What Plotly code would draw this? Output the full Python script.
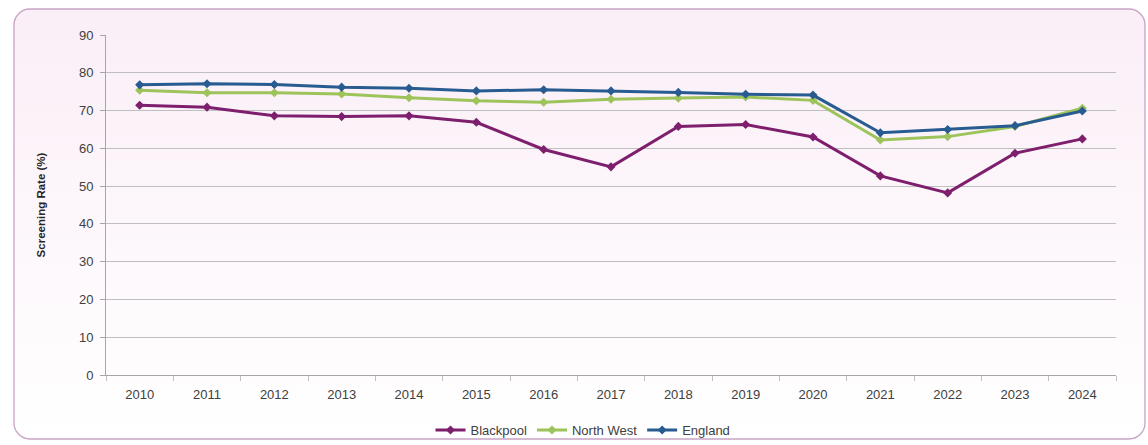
import base64
import plotly.graph_objects as go

years = ["2010", "2011", "2012", "2013", "2014", "2015", "2016", "2017",
         "2018", "2019", "2020", "2021", "2022", "2023", "2024"]
blackpool = [71.4, 70.9, 68.6, 68.4, 68.6, 66.9, 59.7, 55.1, 65.8, 66.3, 63.0, 52.7, 48.2, 58.7, 62.5]
north_west = [75.4, 74.7, 74.7, 74.4, 73.4, 72.6, 72.2, 73.0, 73.3, 73.6, 72.7, 62.2, 63.1, 65.8, 70.6]
england = [76.8, 77.1, 76.9, 76.2, 75.9, 75.2, 75.5, 75.2, 74.8, 74.3, 74.1, 64.1, 65.0, 66.0, 69.9]

series = [("Blackpool", blackpool, "#7E1F6E"),
          ("North West", north_west, "#9DC35B"),
          ("England", england, "#285C91")]

fig = go.Figure()
for name, vals, col in series:
    fig.add_trace(go.Scatter(
        x=years, y=vals, name=name, mode="lines+markers",
        line=dict(color=col, width=3),
        marker=dict(symbol="diamond", size=7, color=col),
    ))

# background panel (rounded, gradient) as an SVG image
W, H = 1133, 432
svg = f'''<svg xmlns="http://www.w3.org/2000/svg" width="{W}" height="{H}" viewBox="0 0 {W} {H}">
<defs><linearGradient id="g" x1="0" y1="0" x2="0" y2="1">
<stop offset="0" stop-color="#FAEEF7"/><stop offset="0.5" stop-color="#FDF7FB"/><stop offset="1" stop-color="#FFFFFF"/>
</linearGradient></defs>
<rect x="1" y="1" width="{W-2}" height="{H-2}" rx="16" ry="16" fill="url(#g)" stroke="#C9A3C3" stroke-width="1.3"/>
</svg>'''
src = "data:image/svg+xml;base64," + base64.b64encode(svg.encode()).decode()

L, R, T, B = 106, 32, 35, 70
pw = 1148 - L - R
ph = 445 - T - B
x0 = (13 - L) / pw
x1 = (1146 - L) / pw
y0 = (445 - B - 8) / ph
y1 = (445 - B - 440) / ph
fig.add_layout_image(dict(source=src, xref="paper", yref="paper", x=x0, y=y0,
                          sizex=x1 - x0, sizey=y0 - y1, xanchor="left", yanchor="top",
                          sizing="stretch", layer="below"))

font = "Liberation Sans"
fig.update_layout(
    width=1148, height=445,
    margin=dict(l=L, r=R, t=T, b=B, autoexpand=False),
    paper_bgcolor="white", plot_bgcolor="rgba(0,0,0,0)",
    font=dict(family=font, size=12, color="#404040"),
    showlegend=True,
    legend=dict(orientation="h", x=(583 - L) / pw, xanchor="center", y=(445 - B - 430) / ph,
                yanchor="middle", font=dict(size=13, color="#404040"),
                bgcolor="rgba(0,0,0,0)", itemwidth=30, tracegroupgap=0),
)
fig.update_xaxes(
    type="category", range=[-0.5, 14.5], showgrid=False,
    showline=True, linecolor="#A6A6A6", linewidth=1,
    ticks="outside", tickson="boundaries", ticklen=5, tickcolor="#BFBFBF",
    tickfont=dict(size=13, color="#404040"), ticklabelstandoff=7,
)
fig.update_yaxes(
    range=[0, 90], dtick=10, showgrid=True, gridcolor="#BFBFBF", gridwidth=1,
    showline=True, linecolor="#A6A6A6", linewidth=1, zeroline=False,
    ticks="outside", ticklen=5, tickcolor="#A6A6A6",
    tickfont=dict(size=13, color="#404040"), ticklabelstandoff=4,
    title=dict(text="<b>Screening Rate (%)</b>", font=dict(size=11.5, color="#262626"), standoff=30),
)

fig.write_html("out.html")
